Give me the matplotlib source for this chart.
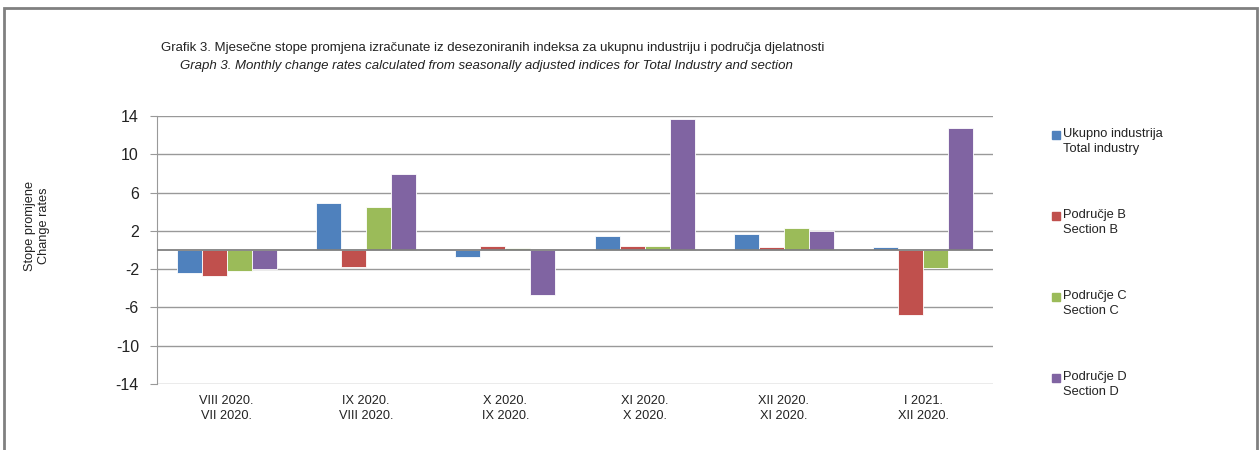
import matplotlib
matplotlib.use("Agg")
import matplotlib.pyplot as plt
import numpy as np
from matplotlib.patches import Rectangle

categories = ["VIII 2020.\nVII 2020.", "IX 2020.\nVIII 2020.", "X 2020.\nIX 2020.",
              "XI 2020.\nX 2020.", "XII 2020.\nXI 2020.", "I 2021.\nXII 2020."]
series_names = ["Ukupno industrija\nTotal industry", "Područje B\nSection B",
                "Područje C\nSection C", "Područje D\nSection D"]
total_industry = [-2.45, 4.9, -0.75, 1.45, 1.7, 0.3]
section_b = [-2.7, -1.8, 0.4, 0.4, 0.3, -6.75]
section_c = [-2.2, 4.45, 0.2, 0.4, 2.35, -1.85]
section_d = [-2.0, 7.95, -4.65, 13.7, 2.0, 12.7]
yticks = [14, 10, 6, 2, -2, -6, -10, -14]
colors = ["#4F81BD", "#C0504D", "#9BBB59", "#8064A2"]

plt.rcParams['font.family'] = ['Liberation Sans', 'DejaVu Sans']

fig = plt.figure(figsize=(12.6, 4.5), dpi=100)
W, H = 1260, 450
ax = fig.add_axes([157 / W, 1 - 384 / H, 836 / W, 268 / H])

x = np.arange(len(categories))
bw = 0.18
data = [total_industry, section_b, section_c, section_d]
for i, (vals, c) in enumerate(zip(data, colors)):
    ax.bar(x + (i - 1.5) * bw, vals, width=bw, color=c, edgecolor="white",
           linewidth=0.6, zorder=3)

ax.set_xlim(-0.5, len(categories) - 0.5)
ax.set_ylim(-14, 14)
ax.set_yticks(yticks)
ax.set_yticklabels([str(t) for t in yticks], fontsize=11.5, color="#222222")
for t in yticks:
    ax.axhline(t, color="#999999", linewidth=1.0, zorder=1)
ax.axhline(0, color="#808080", linewidth=1.3, zorder=4)
ax.set_xticks(x)
ax.set_xticklabels(categories, fontsize=9.2, color="#222222", linespacing=1.35)
ax.tick_params(axis="x", length=0, pad=8)
ax.tick_params(axis="y", length=5, color="#999999", pad=8)
for s in ["top", "right", "bottom"]:
    ax.spines[s].set_visible(False)
ax.spines["left"].set_color("#999999")

fig.text(37 / W, 1 - 226 / H, "Stope promjene\nChange rates",
         fontsize=9.2, rotation=90, ha="center", va="center", color="#222222")

fig.text(493 / W, 1 - 48 / H,
         "Grafik 3. Mjesečne stope promjena izračunate iz desezoniranih indeksa za ukupnu industriju i područja djelatnosti",
         fontsize=9.5, ha="center", va="center", color="#222222")
fig.text(486 / W, 1 - 66 / H,
         "Graph 3. Monthly change rates calculated from seasonally adjusted indices for Total Industry and section",
         fontsize=9.5, ha="center", va="center", style="italic", color="#222222")

# legend
ys = [135, 216, 297, 378]
for name, c, yy in zip(series_names, colors, ys):
    fig.add_artist(Rectangle((1052 / W, 1 - (yy + 4) / H), 8 / W, 8 / H,
                             transform=fig.transFigure, color=c))
    fig.text(1063 / W, 1 - (yy - 7) / H, name, fontsize=9.3, ha="left", va="top",
             linespacing=1.35, color="#222222")

# outer frame
fig.add_artist(Rectangle((4 / W, -0.05), 1253 / W, 1 - 8 / H + 0.05,
                         transform=fig.transFigure, fill=False,
                         edgecolor="#808080", linewidth=2))

fig.savefig("out.png", dpi=100)
